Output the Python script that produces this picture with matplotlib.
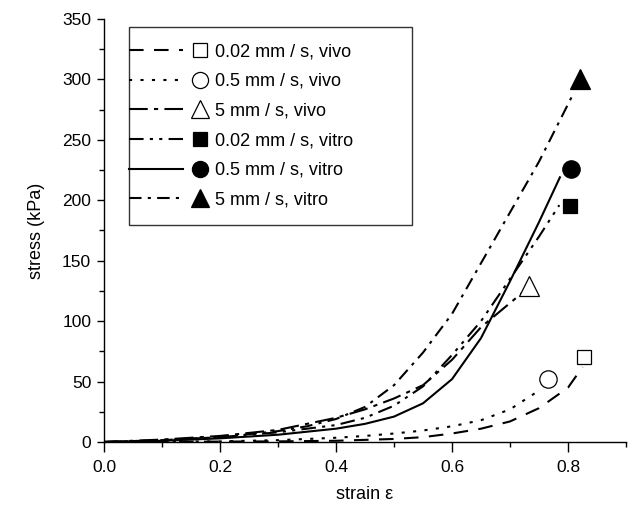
import matplotlib
matplotlib.use("Agg")
import matplotlib.pyplot as plt
from matplotlib.lines import Line2D
from matplotlib.legend_handler import HandlerBase
from matplotlib.ticker import MultipleLocator, FormatStrFormatter

plt.rcParams['font.family'] = ['Liberation Sans', 'DejaVu Sans']

# ---- data ----
labels = ["0.02 mm / s, vivo", "0.5 mm / s, vivo", "5 mm / s, vivo",
          "0.02 mm / s, vitro", "0.5 mm / s, vitro", "5 mm / s, vitro"]

vivo002_x = [0.0, 0.3, 0.4, 0.5, 0.55, 0.6, 0.65, 0.7, 0.75, 0.8, 0.825]
vivo002_y = [0.0, 0.5, 1.0, 2.5, 4.0, 7.0, 11.0, 17.0, 28.0, 45.0, 62.0]

vivo05_x = [0.0, 0.2, 0.3, 0.4, 0.45, 0.5, 0.55, 0.6, 0.65, 0.7, 0.745]
vivo05_y = [0.0, 0.5, 1.5, 3.5, 5.0, 7.0, 9.5, 13.0, 18.0, 27.0, 41.0]

vivo5_x = [0.0, 0.1, 0.2, 0.3, 0.4, 0.45, 0.5, 0.55, 0.6, 0.65, 0.7, 0.72]
vivo5_y = [0.0, 2.0, 5.0, 10.0, 20.0, 27.0, 36.0, 47.0, 68.0, 95.0, 115.0, 123.0]

vitro002_x = [0.0, 0.1, 0.2, 0.3, 0.4, 0.45, 0.5, 0.55, 0.6, 0.65, 0.7, 0.75, 0.785]
vitro002_y = [0.0, 1.5, 4.0, 8.0, 14.0, 20.0, 30.0, 46.0, 72.0, 100.0, 135.0, 170.0, 196.0]

vitro05_x = [0.0, 0.1, 0.2, 0.3, 0.4, 0.45, 0.5, 0.55, 0.6, 0.65, 0.7, 0.75, 0.786]
vitro05_y = [0.0, 1.0, 3.0, 6.0, 11.0, 15.0, 21.0, 32.0, 52.0, 86.0, 133.0, 182.0, 219.0]

vitro5_x = [0.0, 0.1, 0.2, 0.3, 0.35, 0.4, 0.45, 0.5, 0.55, 0.6, 0.65, 0.7, 0.75, 0.81]
vitro5_y = [0.0, 1.5, 4.0, 9.0, 13.0, 19.0, 29.0, 47.0, 74.0, 106.0, 148.0, 190.0, 232.0, 289.0]

# end markers
marker_x = [0.828, 0.766, 0.732, 0.803, 0.805, 0.821]
marker_y = [70.0, 52.0, 129.0, 195.0, 226.0, 300.0]

# ---- styles ----
styles = [
    dict(ls=(0, (7, 5)), marker='s', mfc='white', ms=10.6),
    dict(ls=(0, (1.5, 4)), marker='o', mfc='white', ms=12.5),
    dict(ls=(0, (9, 3, 2, 3)), marker='^', mfc='white', ms=13.7),
    dict(ls=(0, (7, 3, 1.5, 3, 1.5, 3)), marker='s', mfc='black', ms=10.6),
    dict(ls='-', marker='o', mfc='black', ms=12.5),
    dict(ls=(0, (6, 3, 1.5, 3)), marker='^', mfc='black', ms=13.7),
]
curves = [(vivo002_x, vivo002_y), (vivo05_x, vivo05_y), (vivo5_x, vivo5_y),
          (vitro002_x, vitro002_y), (vitro05_x, vitro05_y), (vitro5_x, vitro5_y)]

fig = plt.figure(figsize=(6.33, 5.19), dpi=100)
ax = fig.add_axes([0.1643, 0.1484, 0.8247, 0.815])

handles = []
for (cx, cy), st, mx, my in zip(curves, styles, marker_x, marker_y):
    ln, = ax.plot(cx, cy, color='black', lw=1.5, linestyle=st['ls'])
    mk, = ax.plot([mx], [my], linestyle='none', marker=st['marker'],
                  mfc=st['mfc'], mec='black', mew=0.9, ms=st['ms'])
    handles.append((ln, mk))


class LineThenMarker(HandlerBase):
    def create_artists(self, legend, orig_handle, xdescent, ydescent,
                       width, height, fontsize, trans):
        line, marker = orig_handle
        y = height / 2 - ydescent
        x0 = -xdescent - 0.9 * fontsize
        l = Line2D([x0, -xdescent + width * 0.6], [y, y])
        l.update_from(line)
        l.set_transform(trans)
        m = Line2D([-xdescent + width * 0.86], [y])
        m.update_from(marker)
        m.set_markersize(marker.get_markersize() * 0.93)
        m.set_transform(trans)
        return [l, m]


leg = ax.legend(handles, labels, handler_map={tuple: LineThenMarker()},
                loc='upper left', bbox_to_anchor=(0.048, 0.6, 0.542, 0.381),
                mode='expand', fontsize=13, handlelength=3.52,
                handletextpad=0.33, labelspacing=0.70, borderpad=0.9,
                borderaxespad=0, frameon=True, fancybox=False)
leg.get_frame().set_edgecolor('black')
leg.get_frame().set_linewidth(1.0)

ax.set_xlim(0, 0.9)
ax.set_ylim(0, 350)
ax.xaxis.set_major_locator(MultipleLocator(0.2))
ax.xaxis.set_minor_locator(MultipleLocator(0.1))
ax.yaxis.set_major_locator(MultipleLocator(50))
ax.yaxis.set_minor_locator(MultipleLocator(25))
ax.xaxis.set_major_formatter(FormatStrFormatter('%.1f'))
ax.spines['top'].set_visible(False)
ax.spines['right'].set_visible(False)
for s in ('left', 'bottom'):
    ax.spines[s].set_linewidth(1.0)
ax.tick_params(axis='x', which='major', direction='out', length=7.2, width=1.0,
               labelsize=12.5, pad=6)
ax.tick_params(axis='y', which='major', direction='out', length=5.2, width=1.0,
               labelsize=12.5, pad=4)
ax.tick_params(which='minor', direction='out', length=3.4, width=1.0)

ax.set_xlabel('strain ε', fontsize=13, labelpad=8)
ax.set_ylabel('stress (kPa)', fontsize=13, labelpad=12)

fig.savefig('out.png', dpi=100)
